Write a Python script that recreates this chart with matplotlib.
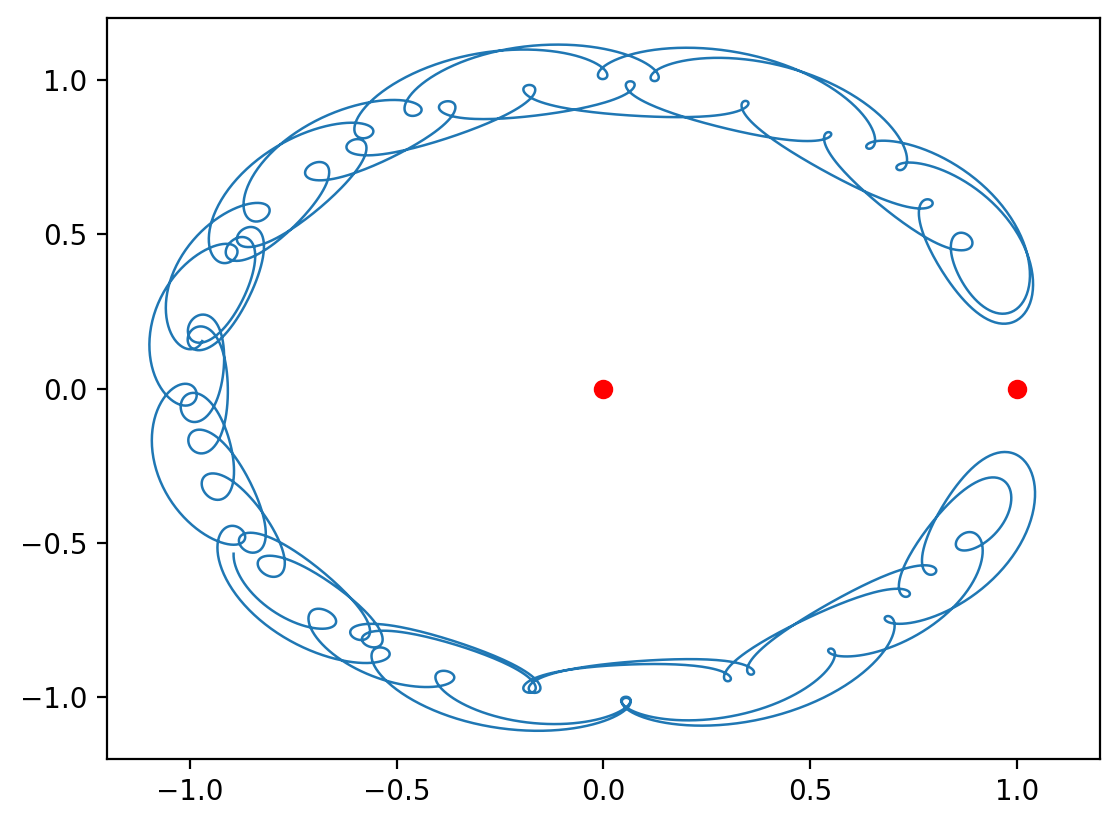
import numpy as np
import matplotlib
matplotlib.use("Agg")
import matplotlib.pyplot as plt

# Circular restricted three-body problem in the rotating frame:
# primary at (0, 0), secondary at (1, 0), test particle on a horseshoe orbit.
mu = 0.001
primaries_x = [0.0, 1.0]
primaries_y = [0.0, 0.0]
end_point = [-0.894, -0.535]          # loose end of the track
# osculating orbit at the end point: candidates for (a - 1, e), first = preferred
candidate_da = [0.020, 0.022, 0.018, 0.024, 0.026, 0.016]
candidate_e = [0.040, 0.045, 0.035, 0.050]
fallback = (-0.015, 0.084, 440.0)
target_tip_angle = 15.0               # closest approach angle to the secondary (deg)
target_r = (0.86, 1.11)               # radial extent of the track
xticks = [-1.0, -0.5, 0.0, 0.5, 1.0]
yticks = [-1.0, -0.5, 0.0, 0.5, 1.0]

cands = [(da, e) for da in candidate_da for e in candidate_e] + [fallback[:2]]

P0 = np.array(end_point)
r0 = np.hypot(*P0)
rh = P0 / r0
th = np.array([-rh[1], rh[0]])
S = []
for da, e in cands:
    a = 1 + da
    p = a * (1 - e**2)
    GM = 1 - mu
    c = np.clip((p / r0 - 1) / e, -1, 1)
    s = np.sqrt(1 - c**2)
    vr = -np.sqrt(GM / p) * e * s
    vt = np.sqrt(GM / p) * (1 + e * c) - r0
    v = vr * rh + vt * th
    S.append([P0[0], P0[1], v[0], v[1]])
S = np.array(S)


def f(S):
    X, y, vx, vy = S[:, 0], S[:, 1], S[:, 2], S[:, 3]
    r1 = np.sqrt(X**2 + y**2) ** 3
    r2 = np.sqrt((X - 1) ** 2 + y**2) ** 3
    ax = 2 * vy + (X - mu) - (1 - mu) * X / r1 - mu * (X - 1) / r2
    ay = -2 * vx + y - (1 - mu) * y / r1 - mu * y / r2
    return np.stack([vx, vy, ax, ay], axis=1)


dt = -0.01
Tmax = 700.0
n = int(Tmax / abs(dt))
keep = 5
step = abs(dt) * keep
traj = np.zeros((n // keep + 1, len(S), 2))
traj[0] = S[:, :2]
for i in range(1, n + 1):
    k1 = f(S); k2 = f(S + dt / 2 * k1); k3 = f(S + dt / 2 * k2); k4 = f(S + dt * k3)
    S = S + dt / 6 * (k1 + 2 * k2 + 2 * k3 + k4)
    if i % keep == 0:
        traj[i // keep] = S[:, :2]
        if not np.all(np.isfinite(S)):
            S = np.nan_to_num(S, nan=50.0, posinf=50.0, neginf=-50.0)

best = None
best_score = np.inf
w = int(round(2 * np.pi / step))
ker = np.ones(w) / w
for j in range(len(cands) - 1):
    x, y = traj[:, j, 0], traj[:, j, 1]
    if not (np.all(np.isfinite(x)) and np.all(np.isfinite(y))):
        continue
    r = np.hypot(x, y)
    ang = np.degrees(np.arctan2(y, x))
    gx = np.convolve(x, ker, mode="same")
    gy = np.convolve(y, ker, mode="same")
    phi = np.degrees(np.arctan2(gy, gx))
    inside = (np.abs(phi) < 50).astype(int)
    d = np.diff(np.concatenate([[0], inside, [0]]))
    starts = np.where(d == 1)[0]
    ends = np.where(d == -1)[0]
    visits = [(s0, e0, np.sign(np.mean(phi[s0:e0]))) for s0, e0 in zip(starts, ends) if e0 - s0 > 5]
    if len(visits) < 4:
        continue
    sg = [v[2] for v in visits[:4]]
    if not all(sg[k] != sg[k + 1] for k in range(3)):
        continue
    end4 = visits[3][1]
    after = np.where(np.abs(phi[end4:]) > 170)[0]
    if len(after) == 0:
        continue
    kend = end4 + after[0]
    rr = r[: kend + 1]
    aa = np.abs(ang[: kend + 1])
    if rr.min() < 0.8 or rr.max() > 1.2 or aa.min() < 10:
        continue
    score = sum((np.abs(ang[s0:e0]).min() - target_tip_angle) ** 2 for s0, e0, _ in visits[:4])
    score += 20000 * ((rr.max() - target_r[1]) ** 2 + (rr.min() - target_r[0]) ** 2)
    if score < best_score:
        best_score = score
        best = (j, kend)

if best is None:
    j = len(cands) - 1
    kend = int(fallback[2] / step)
else:
    j, kend = best

track = traj[: kend + 1, j, :][::-1]

fig = plt.figure(figsize=(5.59, 4.13), dpi=200)
ax = fig.add_axes([0.0957, 0.0811, 0.8882, 0.8969])
ax.plot(track[:, 0], track[:, 1], color="#1f77b4", lw=0.9)
ax.plot(primaries_x, primaries_y, "ro")
ax.set_xlim(-1.2, 1.2)
ax.set_ylim(-1.2, 1.2)
ax.set_xticks(xticks)
ax.set_yticks(yticks)
fig.savefig("out.png", dpi=200)
